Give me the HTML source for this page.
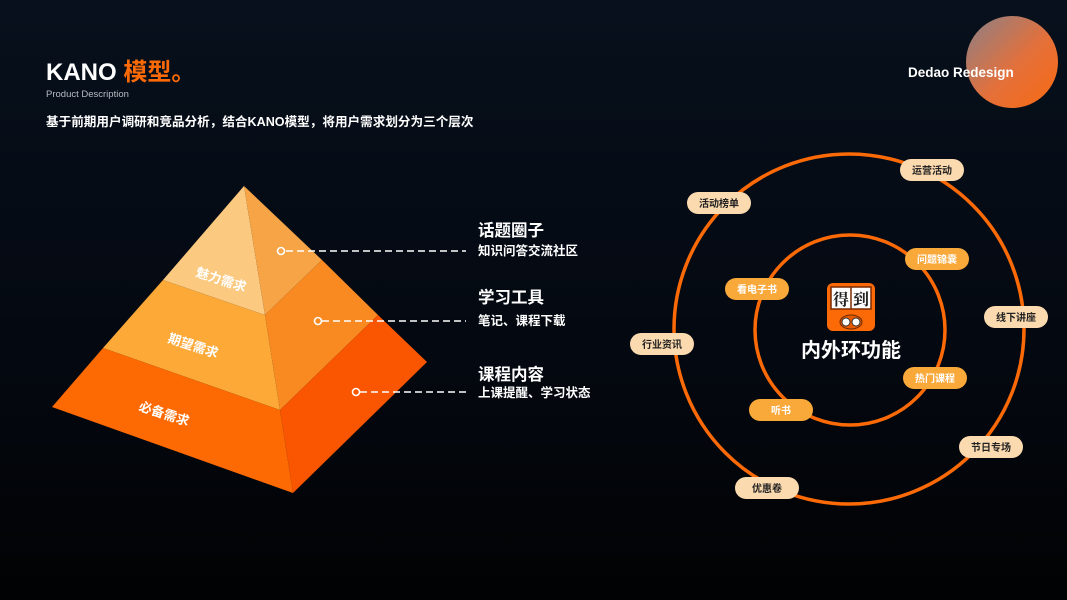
<!DOCTYPE html>
<html><head><meta charset="utf-8"><style>
body{margin:0;width:1067px;height:600px;overflow:hidden;background:linear-gradient(180deg,#07101c 0%,#040810 60%,#010203 100%);font-family:"Liberation Sans","Noto Sans CJK SC",sans-serif;}
</style></head><body>
<svg width="1067" height="600" viewBox="0 0 1067 600" style="position:absolute;left:0;top:0">
<defs>
<linearGradient id="dg" x1="0" y1="0" x2="1" y2="1"><stop offset="0" stop-color="#8a8088"/><stop offset="0.55" stop-color="#e4703a"/><stop offset="1" stop-color="#f86a10"/></linearGradient>
</defs>
<g font-family="Liberation Sans, Noto Sans CJK SC, sans-serif">
<text x="46" y="80" font-size="24" font-weight="bold" fill="#fff">KANO <tspan fill="#fb6a06">模型。</tspan></text>
<text x="46" y="97" font-size="9.5" fill="#b8bcc4">Product Description</text>
<text x="46" y="126" font-size="12.6" font-weight="bold" fill="#fff">基于前期用户调研和竞品分析，结合KANO模型，将用户需求划分为三个层次</text>
<circle cx="1012" cy="62" r="46" fill="url(#dg)"/>
<text x="908" y="77" font-size="13.5" font-weight="bold" fill="#fff">Dedao Redesign</text>

<polygon points="244,186 163,280 265,315" fill="#fbc97f"/>
<polygon points="244,186 322,260 265,315" fill="#f6a446"/>
<polygon points="163,280 103,348 280,410 265,315" fill="#fca938"/>
<polygon points="265,315 322,260 378,315 280,410" fill="#f98a22"/>
<polygon points="103,348 52,407 293,493 280,410" fill="#fd6a03"/>
<polygon points="280,410 378,315 427,362 293,493" fill="#fa5500"/>
<text transform="translate(195,276) rotate(18)" font-size="13" font-weight="bold" fill="#fff">魅力需求</text>
<text transform="translate(167,342) rotate(18)" font-size="13" font-weight="bold" fill="#fff">期望需求</text>
<text transform="translate(138,410) rotate(18)" font-size="13" font-weight="bold" fill="#fff">必备需求</text>
<g stroke="#fff" stroke-width="1.6" fill="none">
<line x1="286" y1="251" x2="466" y2="251" stroke-dasharray="7,4"/>
<line x1="322" y1="321" x2="466" y2="321" stroke-dasharray="7,4"/>
<line x1="360" y1="392" x2="466" y2="392" stroke-dasharray="7,4"/>
<circle cx="281" cy="251" r="3.5"/><circle cx="318" cy="321" r="3.5"/><circle cx="356" cy="392" r="3.5"/>
</g>
<text x="478" y="236" font-size="16.5" font-weight="bold" fill="#fff">话题圈子</text>
<text x="478" y="255" font-size="12.5" font-weight="bold" fill="#fff">知识问答交流社区</text>
<text x="478" y="303" font-size="16.5" font-weight="bold" fill="#fff">学习工具</text>
<text x="478" y="325" font-size="12.5" font-weight="bold" fill="#fff">笔记、课程下载</text>
<text x="478" y="380" font-size="16.5" font-weight="bold" fill="#fff">课程内容</text>
<text x="478" y="397" font-size="12.5" font-weight="bold" fill="#fff">上课提醒、学习状态</text>

<circle cx="849" cy="329" r="175" fill="none" stroke="#fb6a06" stroke-width="3.5"/>
<circle cx="850" cy="330" r="95" fill="none" stroke="#fb6a06" stroke-width="3.5"/>
<g font-size="10" font-weight="bold" text-anchor="middle">
<g fill="#fcdab0">
<rect x="900" y="159" width="64" height="22" rx="11"/>
<rect x="687" y="192" width="64" height="22" rx="11"/>
<rect x="984" y="306" width="64" height="22" rx="11"/>
<rect x="630" y="333" width="64" height="22" rx="11"/>
<rect x="959" y="436" width="64" height="22" rx="11"/>
<rect x="735" y="477" width="64" height="22" rx="11"/>
</g>
<g fill="#222"><text x="932" y="174">运营活动</text><text x="719" y="207">活动榜单</text><text x="1016" y="321">线下讲座</text><text x="662" y="348">行业资讯</text><text x="991" y="451">节日专场</text><text x="767" y="492">优惠卷</text></g>
<g fill="#f9a83a">
<rect x="905" y="248" width="64" height="22" rx="11"/>
<rect x="725" y="278" width="64" height="22" rx="11"/>
<rect x="903" y="367" width="64" height="22" rx="11"/>
<rect x="749" y="399" width="64" height="22" rx="11"/>
</g>
<g fill="#fff"><text x="937" y="263">问题锦囊</text><text x="757" y="293">看电子书</text><text x="935" y="382">热门课程</text><text x="781" y="414">听书</text></g>
</g>
<rect x="827" y="283" width="48" height="48" rx="6" fill="#fb6a06"/>
<rect x="831" y="287" width="40" height="22" fill="#fff" stroke="#7a2a00" stroke-width="1.5"/>
<line x1="851" y1="287" x2="851" y2="309" stroke="#7a2a00" stroke-width="1.5"/>
<text x="833" y="305" font-size="16" font-weight="bold" fill="#222" font-family="Noto Serif CJK SC, serif">得</text>
<text x="853" y="305" font-size="16" font-weight="bold" fill="#222" font-family="Noto Serif CJK SC, serif">到</text>
<ellipse cx="851" cy="322" rx="11" ry="7" fill="#e85a00" stroke="#6a2a00"/>
<circle cx="846" cy="322" r="4" fill="#fff" stroke="#333"/><circle cx="856" cy="322" r="4" fill="#fff" stroke="#333"/>
<text x="851" y="357" font-size="20" font-weight="bold" fill="#fff" text-anchor="middle">内外环功能</text>
</g>
</svg>
</body></html>
